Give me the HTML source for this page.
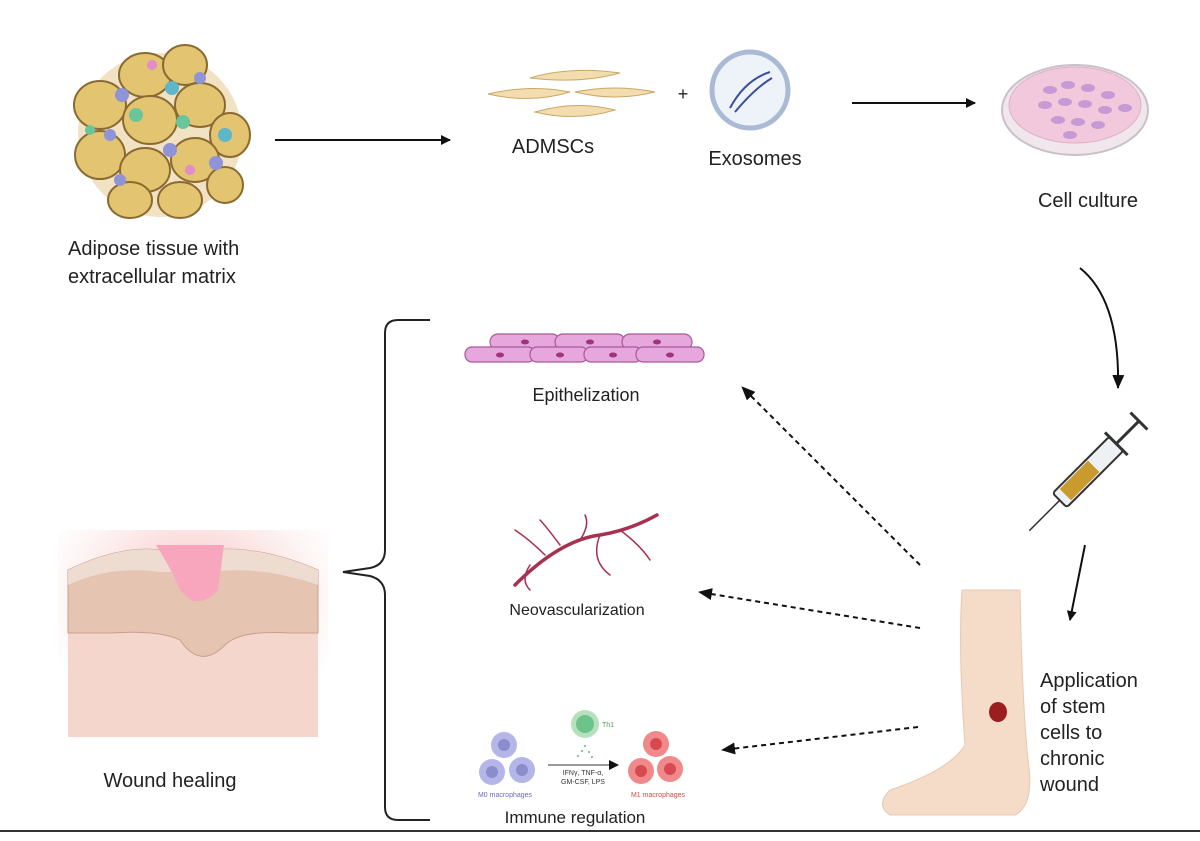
<!DOCTYPE html>
<html><head><meta charset="utf-8"><style>
body{margin:0;background:#fff}
svg{display:block;font-family:"Liberation Sans",sans-serif}
</style></head><body>
<svg width="1200" height="841" viewBox="0 0 1200 841">
<defs>
<marker id="ah" markerWidth="10" markerHeight="10" refX="9" refY="5" orient="auto" markerUnits="userSpaceOnUse"><path d="M0,0 L10,5 L0,10 z" fill="#111"/></marker>
<marker id="ah2" markerWidth="14" markerHeight="12" refX="13" refY="6" orient="auto" markerUnits="userSpaceOnUse"><path d="M0,0 L14,6 L0,12 z" fill="#111"/></marker>
<radialGradient id="glow" cx="50%" cy="30%" r="60%"><stop offset="0" stop-color="#f7a0a8" stop-opacity=".8"/><stop offset="1" stop-color="#f4d6cc" stop-opacity="0"/></radialGradient>
</defs>

<!-- adipose -->
<g stroke="#8a6a30" stroke-width="2" fill="#e3c470">
<circle cx="160" cy="135" r="82" fill="#f2e2c4" stroke="none"/>
<ellipse cx="100" cy="105" rx="26" ry="24"/><ellipse cx="145" cy="75" rx="26" ry="22"/><ellipse cx="185" cy="65" rx="22" ry="20"/>
<ellipse cx="200" cy="105" rx="25" ry="22"/><ellipse cx="230" cy="135" rx="20" ry="22"/><ellipse cx="150" cy="120" rx="27" ry="24"/>
<ellipse cx="100" cy="155" rx="25" ry="24"/><ellipse cx="145" cy="170" rx="25" ry="22"/><ellipse cx="195" cy="160" rx="24" ry="22"/>
<ellipse cx="130" cy="200" rx="22" ry="18"/><ellipse cx="180" cy="200" rx="22" ry="18"/><ellipse cx="225" cy="185" rx="18" ry="18"/>
</g>
<g stroke="none">
<circle cx="122" cy="95" r="7" fill="#8f94d8"/><circle cx="172" cy="88" r="7" fill="#5fb6c8"/><circle cx="136" cy="115" r="7" fill="#6cc49a"/>
<circle cx="183" cy="122" r="7" fill="#6cc49a"/><circle cx="225" cy="135" r="7" fill="#5fb6c8"/><circle cx="110" cy="135" r="6" fill="#8f94d8"/>
<circle cx="170" cy="150" r="7" fill="#8f94d8"/><circle cx="216" cy="163" r="7" fill="#8f94d8"/><circle cx="120" cy="180" r="6" fill="#8f94d8"/>
<circle cx="190" cy="170" r="5" fill="#e28cc8"/><circle cx="152" cy="65" r="5" fill="#e28cc8"/><circle cx="90" cy="130" r="5" fill="#6cc49a"/>
<circle cx="200" cy="78" r="6" fill="#8f94d8"/>
</g>
<text x="68" y="255" font-size="20" fill="#222">Adipose tissue with</text>
<text x="68" y="283" font-size="20" fill="#222">extracellular matrix</text>

<line x1="275" y1="140" x2="450" y2="140" stroke="#111" stroke-width="2" marker-end="url(#ah)"/>

<!-- ADMSCs -->
<g fill="#f3dcae" stroke="#c9a86a" stroke-width="1">
<path d="M530,78 Q570,66 620,73 Q580,84 530,78z"/>
<path d="M488,94 Q530,84 570,92 Q530,104 488,94z"/>
<path d="M575,92 Q615,84 655,92 Q615,102 575,92z"/>
<path d="M535,112 Q575,100 615,110 Q575,122 535,112z"/>
</g>
<text x="553" y="153" font-size="20" fill="#222" text-anchor="middle">ADMSCs</text>
<text x="683" y="100" font-size="18" fill="#222" text-anchor="middle">+</text>
<circle cx="750" cy="90" r="38" fill="#eef3fa" stroke="#a9bbd4" stroke-width="5"/>
<path d="M730,108 Q745,80 770,72 M735,112 Q755,88 772,78" stroke="#3a4e9a" stroke-width="2" fill="none"/>
<text x="755" y="165" font-size="20" fill="#222" text-anchor="middle">Exosomes</text>

<line x1="852" y1="103" x2="975" y2="103" stroke="#111" stroke-width="2" marker-end="url(#ah)"/>

<!-- petri -->
<ellipse cx="1075" cy="110" rx="73" ry="45" fill="#f0e6ec" stroke="#c9c0c8" stroke-width="2"/>
<ellipse cx="1075" cy="105" rx="66" ry="38" fill="#f2c8dc" stroke="#ddb0c8"/>
<g fill="#c79ad6">
<ellipse cx="1050" cy="90" rx="7" ry="4"/><ellipse cx="1068" cy="85" rx="7" ry="4"/><ellipse cx="1088" cy="88" rx="7" ry="4"/><ellipse cx="1108" cy="95" rx="7" ry="4"/>
<ellipse cx="1045" cy="105" rx="7" ry="4"/><ellipse cx="1065" cy="102" rx="7" ry="4"/><ellipse cx="1085" cy="104" rx="7" ry="4"/><ellipse cx="1105" cy="110" rx="7" ry="4"/><ellipse cx="1125" cy="108" rx="7" ry="4"/>
<ellipse cx="1058" cy="120" rx="7" ry="4"/><ellipse cx="1078" cy="122" rx="7" ry="4"/><ellipse cx="1098" cy="125" rx="7" ry="4"/><ellipse cx="1070" cy="135" rx="7" ry="4"/>
</g>
<text x="1088" y="207" font-size="20" fill="#222" text-anchor="middle">Cell culture</text>

<path d="M1080,268 Q1120,300 1118,388" stroke="#111" stroke-width="2" fill="none" marker-end="url(#ah2)"/>

<!-- syringe -->
<g transform="rotate(-45 1088 472)">
<rect x="1048" y="462" width="80" height="20" rx="3" fill="#eef1f4" stroke="#333" stroke-width="2"/>
<rect x="1056" y="464" width="40" height="16" fill="#c99a2e"/>
<line x1="1128" y1="472" x2="1160" y2="472" stroke="#333" stroke-width="3"/>
<line x1="1160" y1="460" x2="1160" y2="484" stroke="#333" stroke-width="3"/>
<line x1="1128" y1="456" x2="1128" y2="488" stroke="#333" stroke-width="3"/>
<line x1="1048" y1="472" x2="1005" y2="472" stroke="#333" stroke-width="1.5"/>
</g>
<line x1="1085" y1="545" x2="1070" y2="620" stroke="#111" stroke-width="2" marker-end="url(#ah)"/>

<!-- leg -->
<path d="M962,590 L1020,590 Q1022,700 1028,760 Q1035,805 1015,815 L890,815 Q875,805 890,790 Q950,770 965,745 Q958,650 962,590z" fill="#f5dcc8" stroke="#e8c8b0"/>
<ellipse cx="998" cy="712" rx="9" ry="10" fill="#9a1e1e"/>
<g font-size="20" fill="#222">
<text x="1040" y="687">Application</text><text x="1040" y="713">of stem</text><text x="1040" y="739">cells to</text><text x="1040" y="765">chronic</text><text x="1040" y="791">wound</text>
</g>

<!-- dashed arrows -->
<g stroke="#111" stroke-width="2" stroke-dasharray="5,4" fill="none">
<line x1="920" y1="565" x2="742" y2="387" marker-end="url(#ah2)"/>
<line x1="920" y1="628" x2="699" y2="592" marker-end="url(#ah2)"/>
<line x1="918" y1="727" x2="722" y2="750" marker-end="url(#ah2)"/>
</g>

<!-- brace -->
<path d="M430,320 L398,320 Q385,320 385,333 L385,550 Q385,565 370,568 L343,572 L370,576 Q385,580 385,595 L385,807 Q385,820 398,820 L430,820" stroke="#222" stroke-width="2" fill="none"/>

<!-- epithelium -->
<g fill="#e6a8dc" stroke="#a8589c" stroke-width="1.2">
<rect x="490" y="334" width="70" height="16" rx="8"/><rect x="555" y="334" width="70" height="16" rx="8"/><rect x="622" y="334" width="70" height="16" rx="8"/>
<rect x="465" y="347" width="70" height="15" rx="7"/><rect x="530" y="347" width="58" height="15" rx="7"/><rect x="584" y="347" width="58" height="15" rx="7"/><rect x="636" y="347" width="68" height="15" rx="7"/>
</g>
<g fill="#a0327f"><ellipse cx="525" cy="342" rx="4" ry="2.5"/><ellipse cx="590" cy="342" rx="4" ry="2.5"/><ellipse cx="657" cy="342" rx="4" ry="2.5"/><ellipse cx="500" cy="355" rx="4" ry="2.5"/><ellipse cx="560" cy="355" rx="4" ry="2.5"/><ellipse cx="613" cy="355" rx="4" ry="2.5"/><ellipse cx="670" cy="355" rx="4" ry="2.5"/></g>
<text x="586" y="401" font-size="18" fill="#222" text-anchor="middle">Epithelization</text>

<!-- vessels -->
<g stroke="#a83050" fill="none" stroke-linecap="round">
<path d="M515,585 Q560,540 600,535 Q630,530 657,515" stroke-width="3.5"/>
<path d="M545,555 Q530,540 515,530 M560,545 Q545,525 540,520 M600,535 Q590,560 610,575 M620,530 Q640,545 650,560 M580,540 Q590,525 585,515 M530,565 Q520,580 530,590" stroke-width="1.5"/>
</g>
<text x="577" y="615" font-size="16" fill="#222" text-anchor="middle">Neovascularization</text>

<!-- immune -->
<circle cx="585" cy="724" r="14" fill="#b6e0be"/><circle cx="585" cy="724" r="9" fill="#6cc48a"/>
<text x="602" y="727" font-size="7" fill="#4a9a5a">Th1</text>
<g fill="#6cb08a"><circle cx="585" cy="746" r="1"/><circle cx="582" cy="751" r="1"/><circle cx="589" cy="752" r="1"/><circle cx="578" cy="756" r="1"/><circle cx="592" cy="757" r="1"/></g>
<line x1="548" y1="765" x2="618" y2="765" stroke="#333" stroke-width="1" marker-end="url(#ah)"/>
<text x="583" y="775" font-size="7" fill="#333" text-anchor="middle">IFNγ, TNF-α,</text>
<text x="583" y="784" font-size="7" fill="#333" text-anchor="middle">GM-CSF, LPS</text>
<g fill="#b4b6e8"><circle cx="504" cy="745" r="13"/><circle cx="492" cy="772" r="13"/><circle cx="522" cy="770" r="13"/></g>
<g fill="#8a8ccc"><circle cx="504" cy="745" r="6"/><circle cx="492" cy="772" r="6"/><circle cx="522" cy="770" r="6"/></g>
<text x="505" y="797" font-size="7" fill="#6a6cb0" text-anchor="middle">M0 macrophages</text>
<g fill="#f08a8a"><circle cx="656" cy="744" r="13"/><circle cx="641" cy="771" r="13"/><circle cx="670" cy="769" r="13"/></g>
<g fill="#d84a52"><circle cx="656" cy="744" r="6"/><circle cx="641" cy="771" r="6"/><circle cx="670" cy="769" r="6"/></g>
<text x="658" y="797" font-size="7" fill="#d04a4a" text-anchor="middle">M1 macrophages</text>
<text x="575" y="823" font-size="17" fill="#222" text-anchor="middle">Immune regulation</text>

<!-- wound skin -->
<rect x="58" y="530" width="270" height="218" fill="url(#glow)"/>
<rect x="68" y="633" width="250" height="104" fill="#f4d6cc"/>
<path d="M68,570 Q120,545 160,550 L210,550 Q260,545 318,570 L318,633 L290,633 Q240,630 225,645 Q200,670 180,640 Q160,630 110,633 L68,633z" fill="#e6c4b2" stroke="#c8a090"/>
<path d="M68,570 Q120,545 160,550 L210,550 Q260,545 318,570 L318,585 Q260,565 210,572 L160,572 Q110,565 68,585z" fill="#efdcd0"/>
<path d="M156,545 L224,545 L218,590 Q205,605 190,600 L180,590 Q172,570 156,545z" fill="#f7a6be"/>
<text x="170" y="787" font-size="20" fill="#222" text-anchor="middle">Wound healing</text>

<line x1="0" y1="831" x2="1200" y2="831" stroke="#333" stroke-width="2"/>
</svg>
</body></html>
